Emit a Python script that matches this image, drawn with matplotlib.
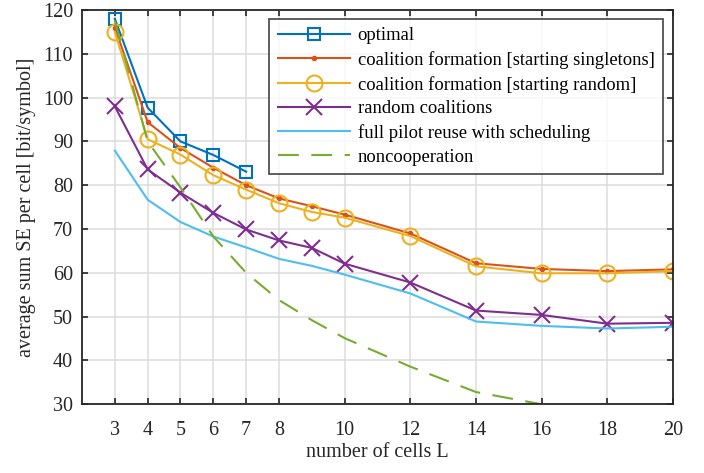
import matplotlib
matplotlib.use("Agg")
import matplotlib.pyplot as plt

L = [3, 4, 5, 6, 7, 8, 9, 10, 12, 14, 16, 18, 20]
L_opt = [3, 4, 5, 6, 7]
L_noncoop = [3, 4, 5, 6, 7, 8, 9, 10, 12, 14, 16]

optimal = [118.0, 97.7, 90.0, 86.9, 83.1]
cf_singletons = [116.0, 94.4, 88.5, 84.0, 80.0, 77.0, 75.2, 73.3, 69.0, 62.2, 60.9, 60.4, 60.8]
cf_random = [115.0, 90.5, 87.0, 82.3, 79.0, 75.9, 73.9, 72.6, 68.4, 61.5, 59.9, 59.9, 60.4]
random_coal = [98.0, 83.6, 78.3, 73.7, 69.9, 67.4, 65.7, 62.1, 57.8, 51.4, 50.4, 48.4, 48.6]
full_reuse = [87.9, 76.7, 71.6, 68.3, 65.8, 63.2, 61.6, 59.6, 55.3, 48.9, 47.9, 47.3, 47.7]
noncoop = [117.5, 90.0, 79.5, 68.3, 60.0, 53.8, 49.2, 45.1, 38.6, 32.8, 30.0]

xticks = [3, 4, 5, 6, 7, 8, 10, 12, 14, 16, 18, 20]
yticks = [30, 40, 50, 60, 70, 80, 90, 100, 110, 120]

labels = ["optimal",
          "coalition formation [starting singletons]",
          "coalition formation [starting random]",
          "random coalitions",
          "full pilot reuse with scheduling",
          "noncooperation"]

plt.rcParams['font.family'] = ['Liberation Serif', 'DejaVu Serif']

fig = plt.figure(figsize=(7.04, 4.73), dpi=100)
ax = fig.add_axes([82/704, 1 - 404.3/473, (673 - 82)/704, (404.3 - 10)/473])

lw = 1.5
ax.plot(L_opt, optimal, color='#0072BD', lw=lw, marker='s', ms=8, mfc='none', mew=1.5, label=labels[0])
ax.plot(L, cf_singletons, color='#D95319', lw=lw, marker='.', ms=6, label=labels[1])
ax.plot(L, cf_random, color='#EDB120', lw=lw, marker='o', ms=11.5, mfc='none', mew=1.5, label=labels[2])
ax.plot(L, random_coal, color='#7E2F8E', lw=lw, marker='x', ms=11, mew=1.5, label=labels[3])
ax.plot(L, full_reuse, color='#4DBEEE', lw=lw, label=labels[4])
ax.plot(L_noncoop, noncoop, color='#77AC30', lw=lw, dashes=(10, 6), label=labels[5])

ax.set_xlim(2, 20)
ax.set_ylim(30, 120)
ax.set_xticks(xticks)
ax.set_yticks(yticks)
ax.tick_params(direction='in', top=True, right=True, length=4, width=1.2, labelsize=14.5, colors='#262626')
ax.tick_params(axis='x', pad=12)
ax.tick_params(axis='y', pad=6.5)
ax.grid(True, color='#dcdcdc', lw=1.1)
ax.set_axisbelow(True)
for s in ax.spines.values():
    s.set_linewidth(1.3)
    s.set_color('#262626')

ax.set_xlabel("number of cells L", fontsize=14.5, color='#262626', labelpad=2)
ax.set_ylabel("average sum SE per cell [bit/symbol]", fontsize=14.5, color='#262626', labelpad=5)

leg = ax.legend(loc='upper right', bbox_to_anchor=(663/704, 1 - 19/473), bbox_transform=fig.transFigure,
                fontsize=13.4, frameon=True, fancybox=False, edgecolor='#262626',
                handlelength=3.9, handletextpad=0.4, borderpad=0.45, labelspacing=0.36, borderaxespad=0)
leg.get_frame().set_linewidth(1.3)

fig.savefig("out.png", dpi=100)
